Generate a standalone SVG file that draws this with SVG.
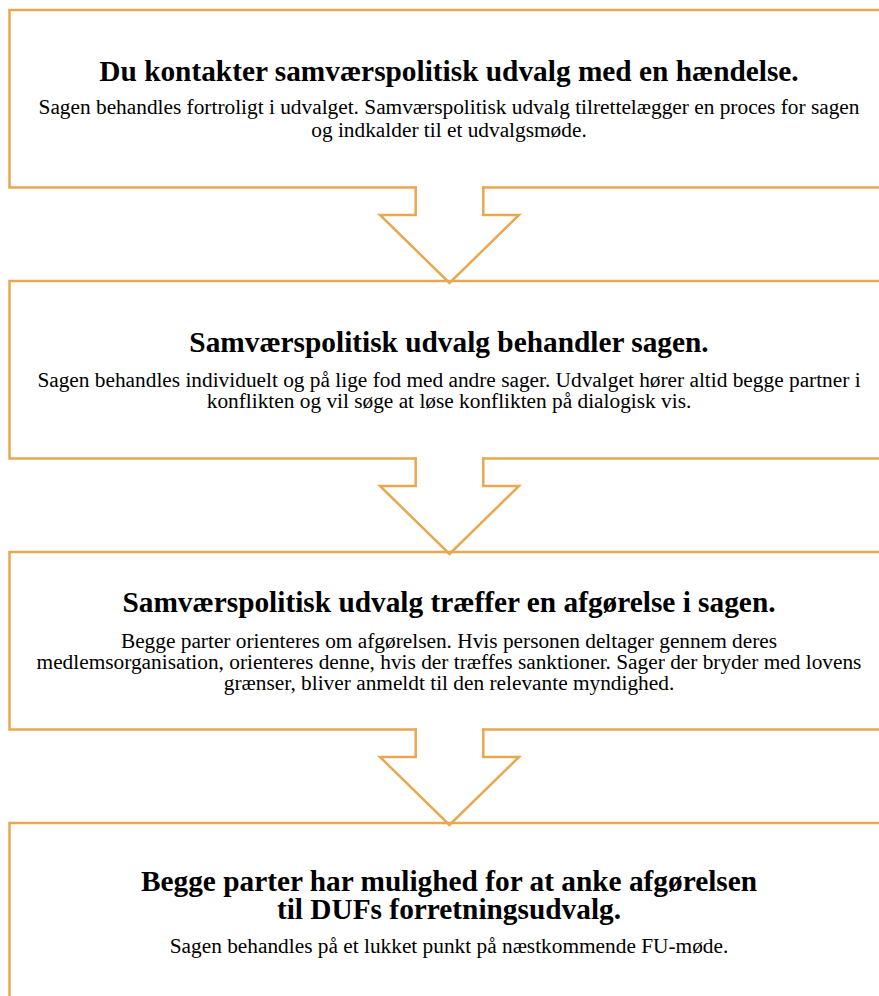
<svg xmlns="http://www.w3.org/2000/svg" width="879" height="996" viewBox="0 0 879 996">
<style>
.ol{fill:none;stroke:#E6A94F;stroke-width:2.5;stroke-linecap:square;stroke-linejoin:miter}
.t{font-family:"Liberation Serif","Times New Roman",serif;font-weight:bold;font-size:29.33px;fill:#000;text-anchor:middle}
.b{font-family:"Liberation Serif","Times New Roman",serif;font-size:21.33px;fill:#000;text-anchor:middle}
</style>
<rect width="879" height="996" fill="#fff"/>
<g id="step1">
<path class="ol" d="M415.7 187.5 L9.5 187.5 L9.5 10 L888.5 10 L888.5 187.5 L483.3 187.5"/>
<text class="t" x="449" y="81">Du kontakter samværspolitisk udvalg med en hændelse.</text>
<text class="b" x="449" y="114.3">Sagen behandles fortroligt i udvalget. Samværspolitisk udvalg tilrettelægger en proces for sagen</text>
<text class="b" x="449" y="136.5">og indkalder til et udvalgsmøde.</text>
</g>
<g id="step2">
<path class="ol" d="M415.7 458.5 L9.5 458.5 L9.5 281 L888.5 281 L888.5 458.5 L483.3 458.5"/>
<text class="t" x="449" y="351.7">Samværspolitisk udvalg behandler sagen.</text>
<text class="b" x="449" y="386.7">Sagen behandles individuelt og på lige fod med andre sager. Udvalget hører altid begge partner i</text>
<text class="b" x="449" y="408.3">konflikten og vil søge at løse konflikten på dialogisk vis.</text>
</g>
<g id="step3">
<path class="ol" d="M415.7 729.5 L9.5 729.5 L9.5 552 L888.5 552 L888.5 729.5 L483.3 729.5"/>
<text class="t" x="449" y="611.7">Samværspolitisk udvalg træffer en afgørelse i sagen.</text>
<text class="b" x="449" y="647.7">Begge parter orienteres om afgørelsen. Hvis personen deltager gennem deres</text>
<text class="b" x="449" y="668.7">medlemsorganisation, orienteres denne, hvis der træffes sanktioner. Sager der bryder med lovens</text>
<text class="b" x="449" y="689.7">grænser, bliver anmeldt til den relevante myndighed.</text>
</g>
<g id="step4">
<path class="ol" d="M9.5 1010 L9.5 823 L888.5 823 L888.5 1010"/>
<text class="t" x="449" y="891">Begge parter har mulighed for at anke afgørelsen</text>
<text class="t" x="449" y="919">til DUFs forretningsudvalg.</text>
<text class="b" x="449" y="953">Sagen behandles på et lukket punkt på næstkommende FU-møde.</text>
</g>
<g id="connectors">
<path class="ol" d="M415.7 187.5 L415.7 215 L380 215 L449.5 283 L519 215 L483.3 215 L483.3 187.5"/>
<path class="ol" d="M415.7 458.5 L415.7 486 L380 486 L449.5 554 L519 486 L483.3 486 L483.3 458.5"/>
<path class="ol" d="M415.7 729.5 L415.7 757 L380 757 L449.5 825 L519 757 L483.3 757 L483.3 729.5"/>
</g>
</svg>
